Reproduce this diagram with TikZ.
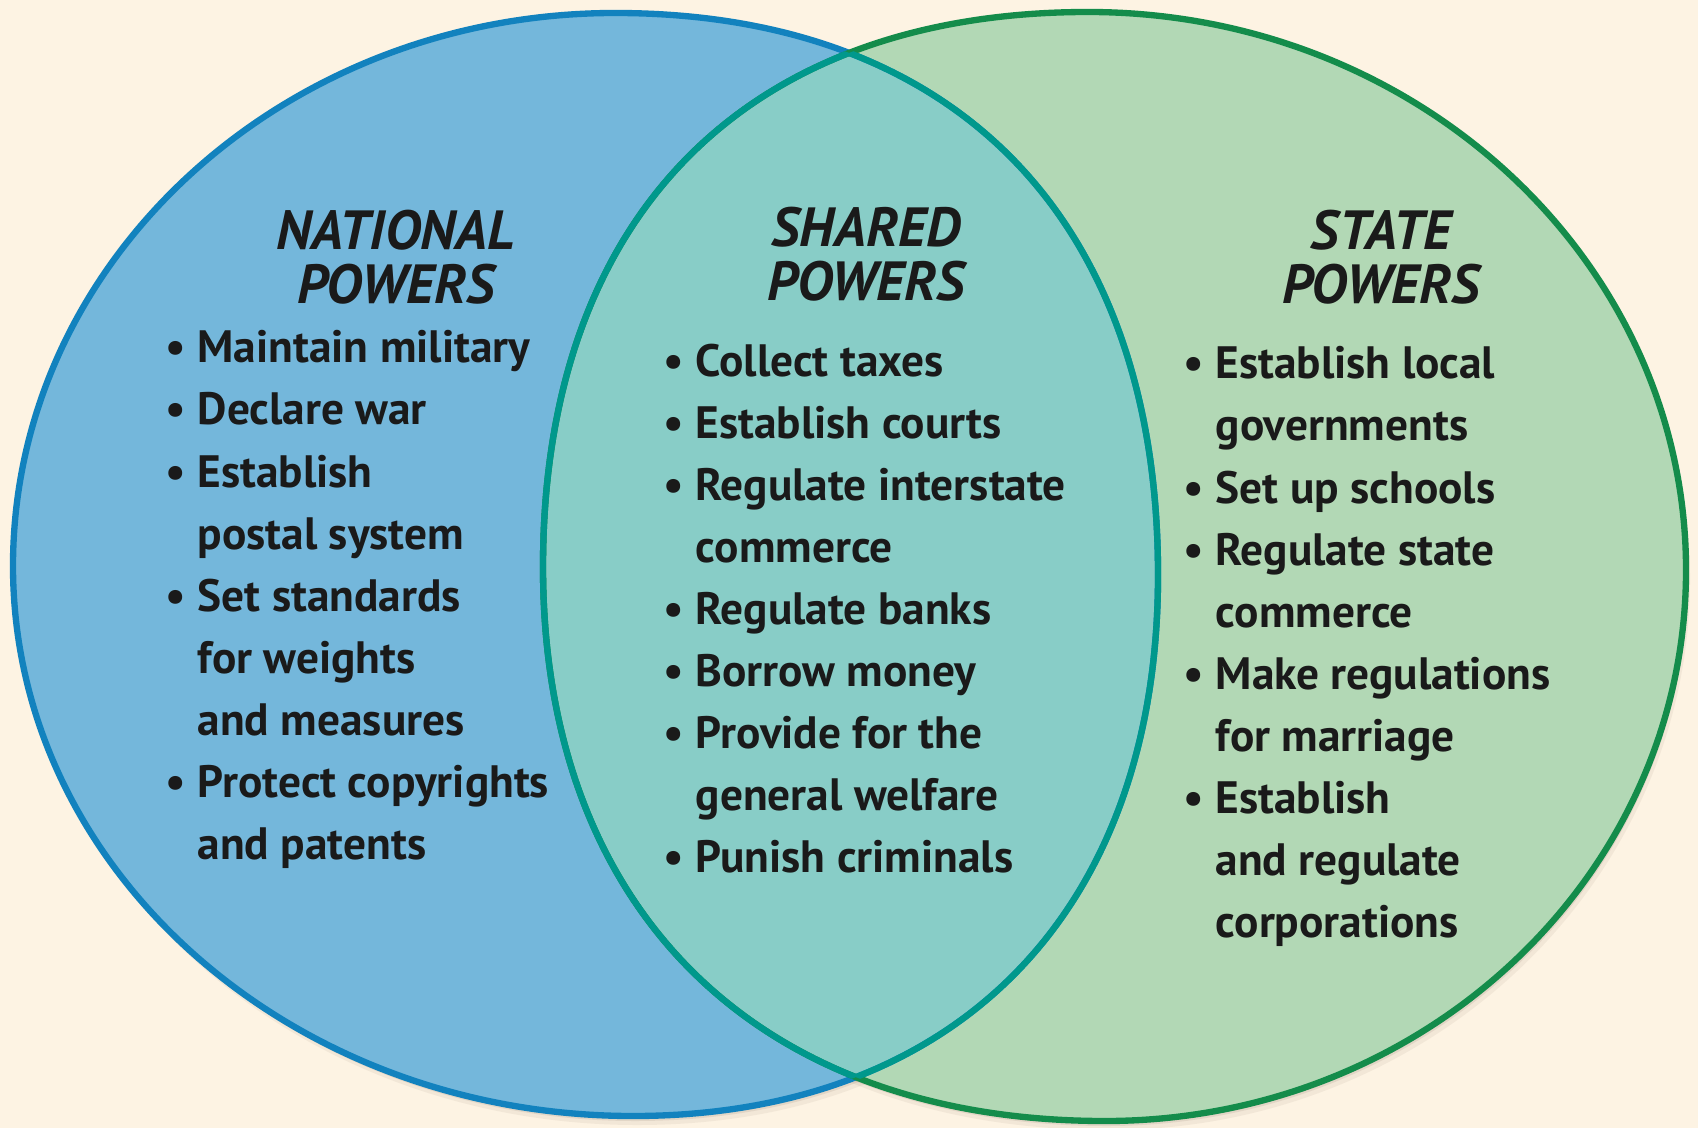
\documentclass[tikz,border=0pt]{standalone}
\usepackage{fontspec}
\setmainfont{PT Sans}

\definecolor{cream}{RGB}{253,243,227}
\definecolor{natblue}{RGB}{116,183,219}
\definecolor{natline}{RGB}{18,130,190}
\definecolor{stategreen}{RGB}{178,216,181}
\definecolor{stateline}{RGB}{20,140,75}
\definecolor{sharedteal}{RGB}{136,205,199}
\definecolor{sharedline}{RGB}{0,152,140}
\definecolor{ink}{RGB}{26,26,26}
\definecolor{shadowbrown}{RGB}{120,95,80}

\tikzset{
  rim/.style={line width=1.8pt},
  powers/.style={font=\fontsize{15.7}{15.6}\selectfont\bfseries\itshape, align=center, inner sep=0pt, text=ink, anchor=north},
  items/.style={font=\fontsize{12.9}{17.64}\selectfont\bfseries, align=left, inner sep=0pt, text=ink, anchor=north west}
}

\newcommand{\natshape}{(13,566) .. controls (13,261) and (283,13) .. (615,13)
  .. controls (957,13) and (1158,221) .. (1158,575)
  .. controls (1158,910) and (958,1116) .. (633,1116)
  .. controls (291,1116) and (13,870) .. cycle}
\newcommand{\stateshape}{(543,567) .. controls (543,217) and (745,12) .. (1088,12)
  .. controls (1418,12) and (1686,262) .. (1686,570)
  .. controls (1686,874) and (1426,1121) .. (1105,1121)
  .. controls (757,1121) and (543,910) .. cycle}
\newcommand{\itm}{\makebox[0.32cm][l]{\textbullet}}
\newcommand{\cont}{\hspace*{0.32cm}}

\begin{document}
\begin{tikzpicture}[x=0.01cm, y=-0.01cm]
\useasboundingbox (0,0) rectangle (1698,1128);
\fill[cream] (0,0) rectangle (1698,1128);

% soft shadow under both shapes
\fill[shadowbrown, opacity=0.12, shift={(2,5)}] \natshape;
\fill[shadowbrown, opacity=0.12, shift={(2,5)}] \stateshape;
\fill[shadowbrown, opacity=0.08, shift={(4,9)}] \natshape;
\fill[shadowbrown, opacity=0.08, shift={(4,9)}] \stateshape;

\fill[natblue] \natshape;
\fill[stategreen] \stateshape;
\begin{scope}
  \clip \natshape;
  \fill[sharedteal] \stateshape;
\end{scope}

\draw[rim, natline] \natshape;
\draw[rim, stateline] \stateshape;
\begin{scope}
  \clip \stateshape;
  \draw[rim, sharedline] \natshape;
\end{scope}
\begin{scope}
  \clip \natshape;
  \draw[rim, sharedline] \stateshape;
\end{scope}

\node[powers] (nathead) at (396,209) {NATIONAL\\POWERS};
\node[powers] (sharedhead) at (866,206) {SHARED\\POWERS};
\node[powers] (statehead) at (1381,209) {STATE\\POWERS};

\node[items] (natlist) at (165,330) {\itm Maintain military\\ \itm Declare war\\ \itm Establish\\
  \cont postal system\\ \itm Set standards\\ \cont for weights\\ \cont and measures\\
  \itm Protect copyrights\\ \cont and patents};
\node[items] (sharedlist) at (663,343) {\itm Collect taxes\\ \itm Establish courts\\
  \itm Regulate interstate\\ \cont commerce\\ \itm Regulate banks\\ \itm Borrow money\\
  \itm Provide for the\\ \cont general welfare\\ \itm Punish criminals};
\node[items] (statelist) at (1183,346) {\itm Establish local\\ \cont governments\\
  \itm Set up schools\\ \itm Regulate state\\ \cont commerce\\ \itm Make regulations\\
  \cont for marriage\\ \itm Establish\\ \cont and regulate\\ \cont corporations};
\end{tikzpicture}
\end{document}
